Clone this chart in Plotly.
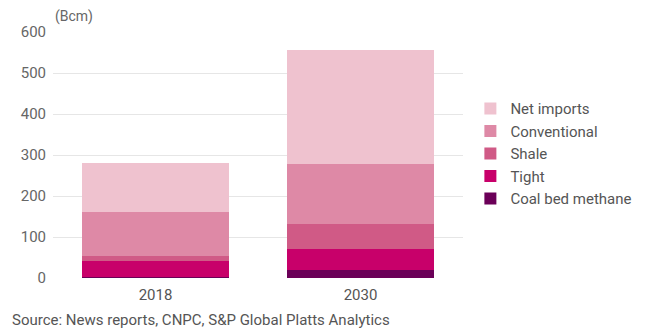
import plotly.graph_objects as go

categories = ["2018", "2030"]
series_names = ["Coal bed methane", "Tight", "Shale", "Conventional", "Net imports"]
coal_bed_methane = [2, 20]
tight = [39, 50]
shale = [12, 61]
conventional = [107, 146]
net_imports = [120, 278]
y_ticks = [0, 100, 200, 300, 400, 500, 600]

values = [coal_bed_methane, tight, shale, conventional, net_imports]
colors = ["#6b0058", "#c8006a", "#d05a86", "#de89a6", "#efc2cf"]

FONT = "Roboto"
fig = go.Figure()
for name, vals, col in zip(series_names, values, colors):
    fig.add_trace(go.Bar(x=categories, y=vals, name=name, marker=dict(color=col, line=dict(width=0))))

fig.update_layout(
    barmode="stack",
    bargap=0.28,
    width=650, height=335,
    margin=dict(l=53, r=187, t=32, b=57, autoexpand=False),
    paper_bgcolor="white", plot_bgcolor="white",
    font=dict(family=FONT, size=15, color="#666666"),
    showlegend=True,
    legend=dict(
        traceorder="reversed",
        x=1.018, xanchor="left", y=0.755, yanchor="top",
        font=dict(family=FONT, size=15, color="#555555"),
        itemwidth=30, tracegroupgap=0,
    ),
    xaxis=dict(showgrid=False, showline=False, ticks="", ticklabelstandoff=6,
               tickfont=dict(size=15, color="#555555")),
    yaxis=dict(range=[0, 600], tickvals=y_ticks, showgrid=True, gridcolor="#e6e6e6",
               gridwidth=1, zeroline=False, showline=False, ticks="", ticklabelstandoff=6,
               tickfont=dict(size=15, color="#666666")),
    annotations=[
        dict(text="(Bcm)", xref="paper", yref="paper", x=0.0, y=1.0, xanchor="left", yanchor="bottom",
             yshift=5, showarrow=False, font=dict(family=FONT, size=14, color="#666666")),
        dict(text="Source: News reports, CNPC, S&P Global Platts Analytics", xref="paper", yref="paper",
             x=-43/410, y=0, xanchor="left", yanchor="top", yshift=-31, showarrow=False,
             font=dict(family=FONT, size=15, color="#555555")),
    ],
)
fig.write_html("out.html")
